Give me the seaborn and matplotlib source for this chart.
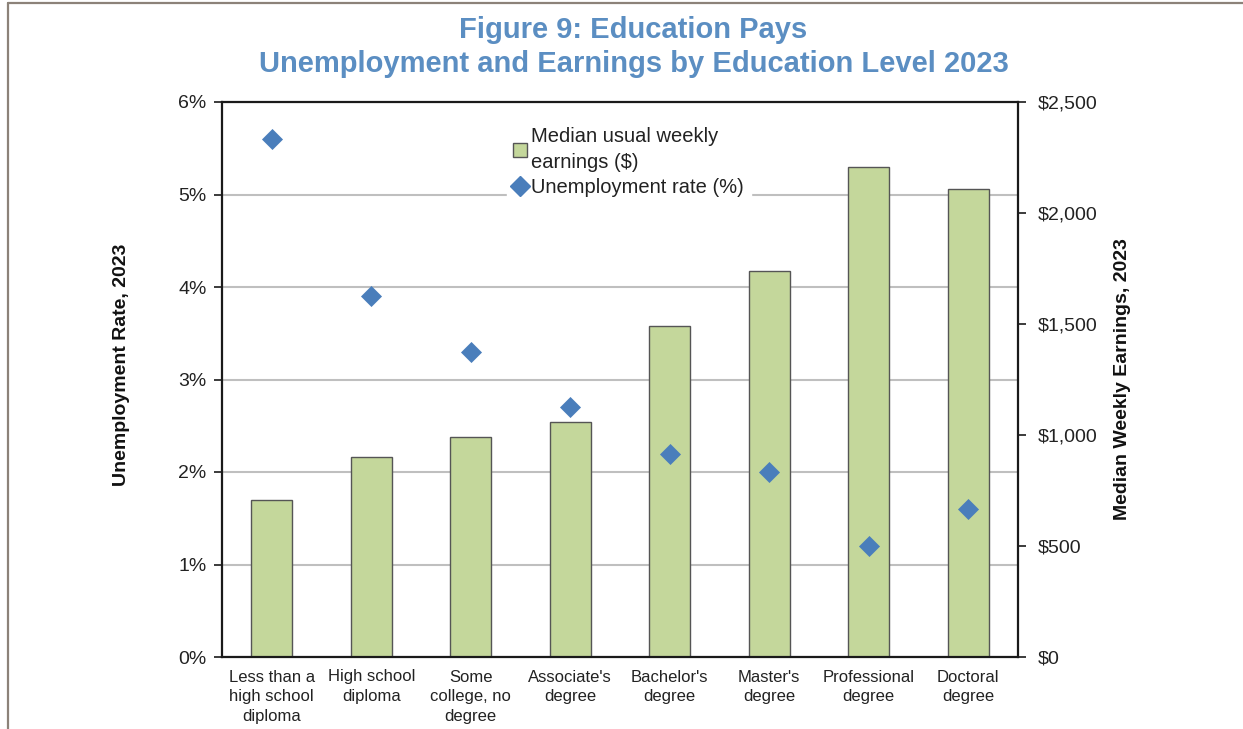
import matplotlib
matplotlib.use("Agg")
import matplotlib.pyplot as plt
import seaborn as sns
import pandas as pd
import numpy as np
from matplotlib.lines import Line2D
from matplotlib.ticker import FuncFormatter

# ---- data ----
categories = ["Less than a\nhigh school\ndiploma", "High school\ndiploma",
              "Some\ncollege, no\ndegree", "Associate's\ndegree", "Bachelor's\ndegree",
              "Master's\ndegree", "Professional\ndegree", "Doctoral\ndegree"]
earnings = [708, 899, 992, 1058, 1493, 1737, 2206, 2109]
unemployment = [5.6, 3.9, 3.3, 2.7, 2.2, 2.0, 1.2, 1.6]
pct_ticks = [0, 1, 2, 3, 4, 5, 6]
usd_ticks = [0, 500, 1000, 1500, 2000, 2500]

title = "Figure 9: Education Pays\nUnemployment and Earnings by Education Level 2023"
left_label = "Unemployment Rate, 2023"
right_label = "Median Weekly Earnings, 2023"
bar_label = "Median usual weekly\nearnings ($)"
dot_label = "Unemployment rate (%)"

df = pd.DataFrame({"cat": categories, "earn": earnings, "unemp": unemployment})

sns.set_theme(style="white")
plt.rcParams["font.family"] = ["Liberation Sans", "DejaVu Sans"]

BAR_C = "#c4d79b"
DOT_C = "#4a7ebb"
TITLE_C = "#5b8ec2"
TXT = "#222222"

fig = plt.figure(figsize=(12.43, 7.29), dpi=100)
ax = fig.add_axes([222/1243, 1-657/729, (1018-222)/1243, (657-102)/729])
ax2 = ax.twinx()
ax3 = ax.twinx()

# left axis: percent with gridlines
ax.set_ylim(0, 6)
ax.set_yticks(pct_ticks)
ax.yaxis.set_major_formatter(FuncFormatter(lambda v, p: f"{int(v)}%"))
ax.grid(axis="y", color="#bfbfbf", linewidth=1.5)
ax.grid(axis="x", visible=False)
ax.set_zorder(0)

# bars on right axis
sns.barplot(data=df, x="cat", y="earn", ax=ax2, color=BAR_C, width=0.41,
            edgecolor="#555555", linewidth=1.0, saturation=1)
ax2.set_ylim(0, 2500)
ax2.set_yticks(usd_ticks)
ax2.yaxis.set_major_formatter(FuncFormatter(lambda v, p: f"${int(v):,}"))
ax2.set_zorder(1)
ax2.patch.set_visible(False)

# diamonds on percent scale
sns.scatterplot(data=df, x="cat", y="unemp", ax=ax3, marker="D", s=115,
                color=DOT_C, edgecolor=DOT_C, linewidth=0, zorder=5)
ax3.set_ylim(0, 6)
ax3.set_zorder(2)
ax3.patch.set_visible(False)
ax3.set_yticks([])
ax3.set_ylabel("")
ax3.set_xlabel("")

for a in (ax, ax2, ax3):
    a.set_xlim(-0.5, len(categories) - 0.5)
    for s in a.spines.values():
        s.set_visible(False)

for side in ("left", "bottom", "right", "top"):
    ax3.spines[side].set_visible(True)
    ax3.spines[side].set_color("#1a1a1a")
    ax3.spines[side].set_linewidth(1.6)

# x ticks: boundaries as major ticks, labels at centers
ax.set_xticks(np.arange(-0.5, len(categories)), minor=False)
ax.set_xticklabels([])
ax.set_xticks(np.arange(len(categories)), minor=True)
ax.set_xticklabels(categories, minor=True, fontsize=12, color=TXT, linespacing=1.38)
ax.tick_params(axis="x", which="major", length=6, width=1.2, color="#1a1a1a", direction="out", bottom=True)
ax.tick_params(axis="x", which="minor", length=0, pad=9)
ax2.set_xticks([])
ax3.set_xticks([])
ax2.set_xlabel("")

ax.tick_params(axis="y", length=6, width=1.2, color="#1a1a1a", direction="out", left=True,
               labelsize=14, labelcolor=TXT, pad=5)
ax2.tick_params(axis="y", length=6, width=1.2, color="#1a1a1a", direction="out", right=True,
                labelsize=14, labelcolor=TXT, pad=8)

ax.set_ylabel(left_label, fontsize=14, fontweight="bold", color="#111111")
ax.yaxis.set_label_coords(-0.116, 0.526)
ax2.set_ylabel(right_label, fontsize=14, fontweight="bold", color="#111111", labelpad=12)
ax.set_xlabel("")

# legend
handles = [Line2D([], [], marker="s", linestyle="none", markersize=10, markerfacecolor=BAR_C,
                  markeredgecolor="#555555", markeredgewidth=1.0),
           Line2D([], [], marker="D", linestyle="none", markersize=10, markerfacecolor=DOT_C,
                  markeredgecolor=DOT_C)]
leg = ax3.legend(handles, [bar_label, dot_label], loc="upper left",
                 bbox_to_anchor=(0.345, 0.985), frameon=True, framealpha=1,
                 edgecolor="white", facecolor="white", fontsize=14.5,
                 handlelength=0.6, handletextpad=0.25, borderpad=0.35, labelspacing=0.3)
for t in leg.get_texts():
    t.set_color(TXT)
    t.set_linespacing(1.45)

fig.suptitle(title, x=0.5097, y=0.978, fontsize=21, fontweight="bold", color=TITLE_C,
             linespacing=1.25)

# figure border lines
fig.add_artist(Line2D([8/1243, 8/1243], [0, 1-3/729], color="#8c8279", linewidth=1.6,
                      transform=fig.transFigure))
fig.add_artist(Line2D([8/1243, 1], [1-3/729, 1-3/729], color="#8c8279", linewidth=1.6,
                      transform=fig.transFigure))

fig.savefig("out.png", dpi=100, facecolor="white")
